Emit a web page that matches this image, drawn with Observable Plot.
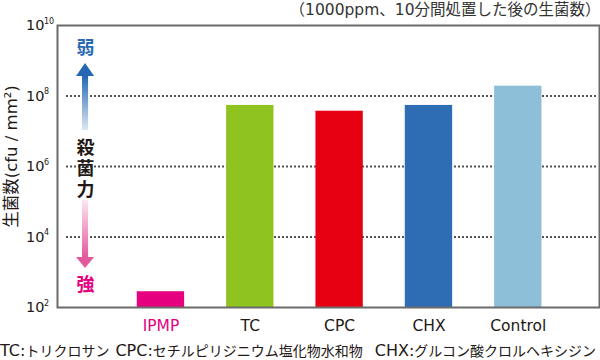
<!DOCTYPE html>
<html><head><meta charset="utf-8">
<script src="https://cdn.jsdelivr.net/npm/d3@7"></script>
<script src="https://cdn.jsdelivr.net/npm/@observablehq/plot@0.6"></script>
<style>
body{margin:0;background:#fff;width:600px;height:360px;overflow:hidden;}
#cap{height:28px;line-height:28px;white-space:nowrap;color:#231815;font-family:"DejaVu Sans","Noto Sans CJK JP",sans-serif;}
#cap .ab{font-size:16px;}
#cap .jp{font-size:14px;font-family:"Noto Sans CJK JP",sans-serif;}
#cap .co{font-size:16px;}
</style>
</head><body>
<div id="chart"></div>
<div id="cap"><span class="ab">TC</span><span class="co">:</span><span class="jp">トリクロサン</span><span class="ab" style="margin-left:6px">CPC</span><span class="co">:</span><span class="jp">セチルピリジニウム塩化物水和物</span><span class="ab" style="margin-left:12px">CHX</span><span class="co">:</span><span class="jp">グルコン酸クロルヘキシジン</span></div>
<script>
const categories = ["IPMP", "TC", "CPC", "CHX", "Control"];
const counts = [2.8e2, 5.4e7, 3.7e7, 5.4e7, 1.9e8];
const barColors = ["#e4007f", "#8fc31f", "#e60012", "#2e6db4", "#8dc0d8"];
const labelColors = ["#e4007f", "#231815", "#231815", "#231815", "#231815"];
const yTicks = [1e2, 1e4, 1e6, 1e8, 1e10];
const gridValues = [1e4, 1e6, 1e8];
const yTitle = "生菌数(cfu / mm²)";
const note = "（1000ppm、10分間処置した後の生菌数）";
const powerChars = ["殺", "菌", "力"];

const data = categories.map((c, i) => ({category: c, idx: i, value: counts[i], color: barColors[i], lc: labelColors[i]}));

const half = 0.265;           // half bar width in band units
const ax = -0.844;            // arrow position (x units)
const p = e => Math.pow(10, e);
const font = '"DejaVu Sans","Noto Sans CJK JP",sans-serif';

const svg = Plot.plot({
  width: 600, height: 336,
  marginLeft: 57, marginRight: 1, marginTop: 25, marginBottom: 29,
  style: {fontFamily: font, background: "#fff"},
  x: {type: "linear", domain: [-1.158, 4.909], axis: null},
  y: {type: "log", domain: [1e2, 1e10]},
  color: {type: "identity"},
  marks: [
    Plot.ruleY(gridValues, {stroke: "#555", strokeWidth: 2, strokeDasharray: "2,2", insetLeft: 9, insetRight: 2}),
    Plot.rectY(data, {x1: d => d.idx - half, x2: d => d.idx + half, y1: () => 1e2, y2: "value", fill: "color"}),
    // kill-power arrow (up: weak)
    Plot.rect([0], {x1: () => ax - 0.034, x2: () => ax + 0.034, y1: () => p(7.02), y2: () => p(8.56), fill: "url(#gUp)"}),
    Plot.areaY([-1, 0, 1], {x: d => ax + d * 0.101, y1: () => p(8.553), y2: d => d === 0 ? p(8.92) : p(8.553), fill: "#2567b3"}),
    // down: strong
    Plot.rect([0], {x1: () => ax - 0.034, x2: () => ax + 0.034, y1: () => p(5.035), y2: () => p(3.41), fill: "url(#gDown)"}),
    Plot.areaY([-1, 0, 1], {x: d => ax + d * 0.101, y1: () => p(3.418), y2: d => d === 0 ? p(3.106) : p(3.418), fill: "#e35a9c"}),
    Plot.text(["弱"], {x: () => ax, y: () => p(9.35), fill: "#2a6ab4", fontSize: 18, fontWeight: "bold", fontFamily: "Noto Sans CJK JP"}),
    Plot.text(powerChars, {x: () => ax, y: (d, i) => p(6.53 - i * 0.595), fill: "#231815", fontSize: 18, fontWeight: "bold", fontFamily: "Noto Sans CJK JP"}),
    Plot.text(["強"], {x: () => ax, y: () => p(2.62), fill: "#e4007f", fontSize: 18, fontWeight: "bold", fontFamily: "Noto Sans CJK JP"}),
    Plot.frame({stroke: "#6b6b6b", strokeWidth: 2}),
    Plot.axisY({ticks: yTicks, tickFormat: () => "10", tickSize: 0, tickPadding: 13, fontSize: 14.5, fill: "#231815", label: null}),
    Plot.text(yTicks, {y: d => d, text: d => String(Math.round(Math.log10(d))), frameAnchor: "left", dx: -13.5, dy: -4.5, textAnchor: "start", fontSize: 8, fill: "#231815"}),
    Plot.text(data, {x: "idx", text: "category", fill: "lc", frameAnchor: "bottom", dy: 19, fontSize: 15.5, lineAnchor: "middle"}),
    Plot.text([yTitle], {frameAnchor: "left", rotate: -90, textAnchor: "middle", dx: -45.5, dy: -10, fontSize: 16.5, fill: "#231815"}),
    Plot.text([note], {frameAnchor: "top-right", dy: -15, dx: 1, lineAnchor: "middle", textAnchor: "end", fontSize: 15.5, fill: "#333"})
  ]
});

d3.select(svg).insert("defs", ":first-child").html(`
  <linearGradient id="gUp" x1="0" y1="0" x2="0" y2="1">
    <stop offset="0" stop-color="#2567b3"/><stop offset="1" stop-color="#dce8f4"/>
  </linearGradient>
  <linearGradient id="gDown" x1="0" y1="0" x2="0" y2="1">
    <stop offset="0" stop-color="#fbe6f0"/><stop offset="1" stop-color="#e35a9c"/>
  </linearGradient>`);
document.getElementById("chart").appendChild(svg);
</script>
</body></html>
